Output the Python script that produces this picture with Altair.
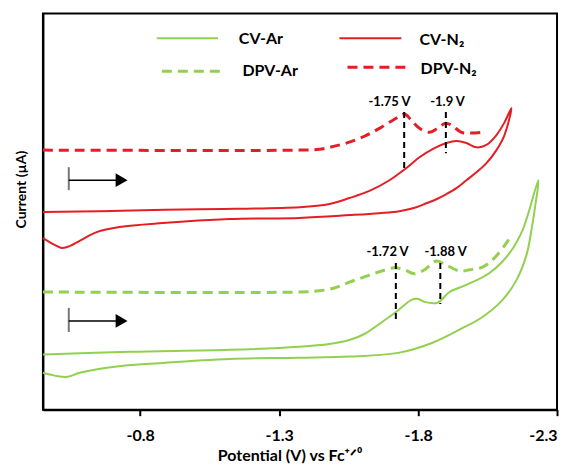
import altair as alt
import pandas as pd

# ---------------- data (potential in V vs Fc+/0, current in arbitrary µA units) ----------------
series_names = ["CV-Ar", "CV-N₂", "DPV-Ar", "DPV-N₂"]
series_colors = ["#92D050", "#E41E25", "#92D050", "#E41E25"]

# CV under N2 (closed loop in scan order)
cv_n2_v = [-0.45, -0.654, -1.014, -1.373, -1.481, -1.553, -1.625, -1.697, -1.758, -1.805,
           -1.859, -1.902, -1.938, -1.974, -2.010, -2.046, -2.082, -2.111, -2.136,
           -2.111, -2.082, -2.046, -2.010, -1.974, -1.938, -1.902, -1.866, -1.830, -1.794,
           -1.733, -1.661, -1.553, -1.373, -1.122, -0.881, -0.726, -0.643, -0.582, -0.539,
           -0.517, -0.492, -0.45]
cv_n2_i = [49.9, 50.1, 50.6, 51.1, 51.9, 53.4, 55.2, 57.9, 61.0, 63.7,
           66.0, 67.3, 67.8, 67.3, 66.2, 66.8, 69.3, 72.5, 76.1,
           69.3, 65.5, 62.2, 59.9, 57.9, 55.9, 54.4, 53.1, 52.1, 51.1,
           50.1, 49.6, 49.1, 48.4, 48.1, 47.1, 46.1, 44.8, 42.6, 41.1,
           40.8, 41.6, 43.3]

# CV under Ar (closed loop in scan order)
cv_ar_v = [-0.45, -0.762, -1.122, -1.373, -1.481, -1.553, -1.607, -1.672, -1.722, -1.776,
           -1.798, -1.823, -1.870, -1.913, -1.974, -2.057, -2.129, -2.176, -2.233,
           -2.222, -2.208, -2.190, -2.154, -2.104, -2.032, -1.949, -1.852, -1.733, -1.553,
           -1.373, -1.122, -0.881, -0.701, -0.582, -0.539, -0.492, -0.45]
cv_ar_i = [13.9, 14.6, 15.1, 15.9, 16.6, 17.6, 19.1, 22.2, 24.7, 27.7,
           28.0, 27.2, 27.0, 29.7, 31.5, 34.5, 39.5, 45.3, 57.9,
           51.6, 45.3, 39.0, 32.7, 27.7, 23.4, 20.2, 16.9, 14.4, 13.4,
           13.1, 12.8, 11.8, 10.8, 9.3, 8.3, 8.6, 9.3]

# DPV under N2
dpv_n2_v = [-0.45, -1.373, -1.445, -1.499, -1.553, -1.607, -1.661, -1.715, -1.751, -1.776,
            -1.805, -1.841, -1.870, -1.899, -1.920, -1.956, -1.992, -2.035]
dpv_n2_i = [65.5, 65.5, 65.7, 66.5, 67.5, 69.0, 71.0, 73.3, 74.6, 73.0,
            71.0, 70.0, 71.0, 72.3, 71.8, 70.0, 69.8, 70.0]

# DPV under Ar
dpv_ar_v = [-0.45, -1.373, -1.445, -1.499, -1.553, -1.607, -1.661, -1.715, -1.751, -1.787,
            -1.823, -1.866, -1.906, -1.949, -1.985, -2.032, -2.075, -2.118, -2.136]
dpv_ar_i = [29.7, 29.7, 30.0, 30.7, 32.2, 33.5, 34.8, 35.8, 35.3, 34.3,
            35.3, 37.5, 36.3, 35.0, 35.3, 36.0, 38.3, 42.1, 44.1]

# peak markers
peak_v = [-1.75, -1.9, -1.72, -1.88]
peak_top = [75.1, 75.1, 37.0, 37.0]
peak_bottom = [60.5, 64.7, 22.7, 26.7]
peak_text = ["-1.75 V", "-1.9 V", "-1.72 V", "-1.88 V"]
peak_text_v = [-1.697, -1.906, -1.690, -1.899]
peak_text_i = [77.6, 77.6, 39.8, 39.8]

# scan-direction arrows
arrow_start = [-0.543, -0.543]
arrow_end = [-0.715, -0.715]
arrow_head = [-0.733, -0.733]
arrow_level = [57.9, 22.4]
arrow_bar_top = [61.2, 25.7]
arrow_bar_bottom = [55.4, 19.6]

# legend layout (data units)
legend_x1 = [-0.860, -1.517, -0.878, -1.546]
legend_x2 = [-1.080, -1.740, -1.087, -1.758]
legend_y = [93.7, 93.7, 85.4, 86.4]
legend_tx = [-1.155, -1.805, -1.168, -1.809]
legend_ty = [93.5, 93.2, 85.4, 85.9]

x_ticks = [-0.8, -1.3, -1.8, -2.3]

# ---------------- tables ----------------
def curve_table(items):
    rows = []
    for name, vs, cs in items:
        for k, (v, c) in enumerate(zip(vs, cs)):
            rows.append({"series": name, "potential": v, "current": c, "step": k})
    return pd.DataFrame(rows)

cv_df = curve_table([("CV-Ar", cv_ar_v, cv_ar_i), ("CV-N₂", cv_n2_v, cv_n2_i)])
dpv_df = curve_table([("DPV-Ar", dpv_ar_v, dpv_ar_i), ("DPV-N₂", dpv_n2_v, dpv_n2_i)])

peaks = pd.DataFrame({"potential": peak_v, "top": peak_top, "bottom": peak_bottom})
peak_labels = pd.DataFrame({"potential": peak_text_v, "current": peak_text_i, "label": peak_text})
arrows = pd.DataFrame({"start": arrow_start, "end": arrow_end, "head": arrow_head,
                       "level": arrow_level, "bt": arrow_bar_top, "bb": arrow_bar_bottom})
legend_df = pd.DataFrame({"series": series_names, "x1": legend_x1, "x2": legend_x2,
                          "y": legend_y, "tx": legend_tx, "ty": legend_ty})

FONT = "Lato"
X_TITLE = "Potential (V) vs Fc⁺ᐟ⁰"
Y_TITLE = "Current (µA)"
x_scale = alt.Scale(domain=[-2.3, -0.45], reverse=True, nice=False, zero=False)
y_scale = alt.Scale(domain=[0, 100], nice=False, zero=False)
color_scale = alt.Scale(domain=series_names, range=series_colors)

x_axis = alt.Axis(values=x_ticks, labelExpr="'' + datum.value", grid=False,
                  labelFont=FONT, labelFontWeight="bold", labelFontSize=16, labelColor="black",
                  labelPadding=12, tickColor="black", tickSize=6, tickWidth=2,
                  domainColor="black", domainWidth=2,
                  titleFont=FONT, titleFontWeight="bold", titleFontSize=16, titleColor="black",
                  titleX=247, titleY=46, titleBaseline="middle")
y_axis = alt.Axis(labels=False, ticks=False, grid=False, domainColor="black", domainWidth=2,
                  titleFont=FONT, titleFontWeight="bold", titleFontSize=14, titleColor="black",
                  titleX=-21, titleY=176, titleAngle=270, titleBaseline="middle", titleAlign="center")


def X(field):
    return alt.X(field, scale=x_scale, axis=x_axis, title=X_TITLE)


def Y(field):
    return alt.Y(field, scale=y_scale, axis=y_axis, title=Y_TITLE)


COLOR = alt.Color("series:N", scale=color_scale, legend=None)

cv_lines = alt.Chart(cv_df).mark_line(interpolate="catmull-rom", strokeWidth=2).encode(
    x=X("potential:Q"), y=Y("current:Q"), color=COLOR, detail="series:N", order="step:Q",
)
dpv_lines = alt.Chart(dpv_df).mark_line(interpolate="catmull-rom", strokeWidth=3,
                                        strokeDash=[10, 6]).encode(
    x=X("potential:Q"), y=Y("current:Q"), color=COLOR, detail="series:N", order="step:Q",
)

peak_rules = alt.Chart(peaks).mark_rule(color="black", strokeDash=[6, 4], strokeWidth=2).encode(
    x=X("potential:Q"), y=Y("top:Q"), y2="bottom:Q",
)

peak_txt = alt.Chart(peak_labels).mark_text(font=FONT, fontWeight="bold", fontSize=13,
                                            color="black", align="center", baseline="middle").encode(
    x=X("potential:Q"), y=Y("current:Q"), text="label:N",
)

arrow_bar = alt.Chart(arrows).mark_rule(color="#777777", strokeWidth=2).encode(
    x=X("start:Q"), y=Y("bt:Q"), y2="bb:Q",
)
arrow_shaft = alt.Chart(arrows).mark_rule(color="black", strokeWidth=1.5).encode(
    x=X("start:Q"), x2="end:Q", y=Y("level:Q"),
)
arrow_tip = alt.Chart(arrows).mark_point(shape="triangle-right", filled=True, size=190,
                                         color="black", opacity=1).encode(
    x=X("head:Q"), y=Y("level:Q"),
)

legend_cv = alt.Chart(legend_df.iloc[:2]).mark_rule(strokeWidth=2).encode(
    x=X("x1:Q"), x2="x2:Q", y=Y("y:Q"), color=COLOR,
)
legend_dpv = alt.Chart(legend_df.iloc[2:]).mark_rule(strokeWidth=3, strokeDash=[10, 6]).encode(
    x=X("x1:Q"), x2="x2:Q", y=Y("y:Q"), color=COLOR,
)
legend_text = alt.Chart(legend_df).mark_text(font=FONT, fontWeight="bold", fontSize=16,
                                             color="black", align="left", baseline="middle").encode(
    x=X("tx:Q"), y=Y("ty:Q"), text="series:N",
)

chart = alt.layer(
    cv_lines, dpv_lines, peak_rules, peak_txt, arrow_bar, arrow_shaft, arrow_tip,
    legend_cv, legend_dpv, legend_text
).properties(
    width=515, height=397,
    padding={"left": 35, "top": 5, "right": 10, "bottom": 57},
    autosize=alt.AutoSizeParams(type="none"),
    background="white",
).configure_view(stroke="black", strokeWidth=2)

chart.save("out.html", embed_options={"renderer": "svg", "actions": False})
